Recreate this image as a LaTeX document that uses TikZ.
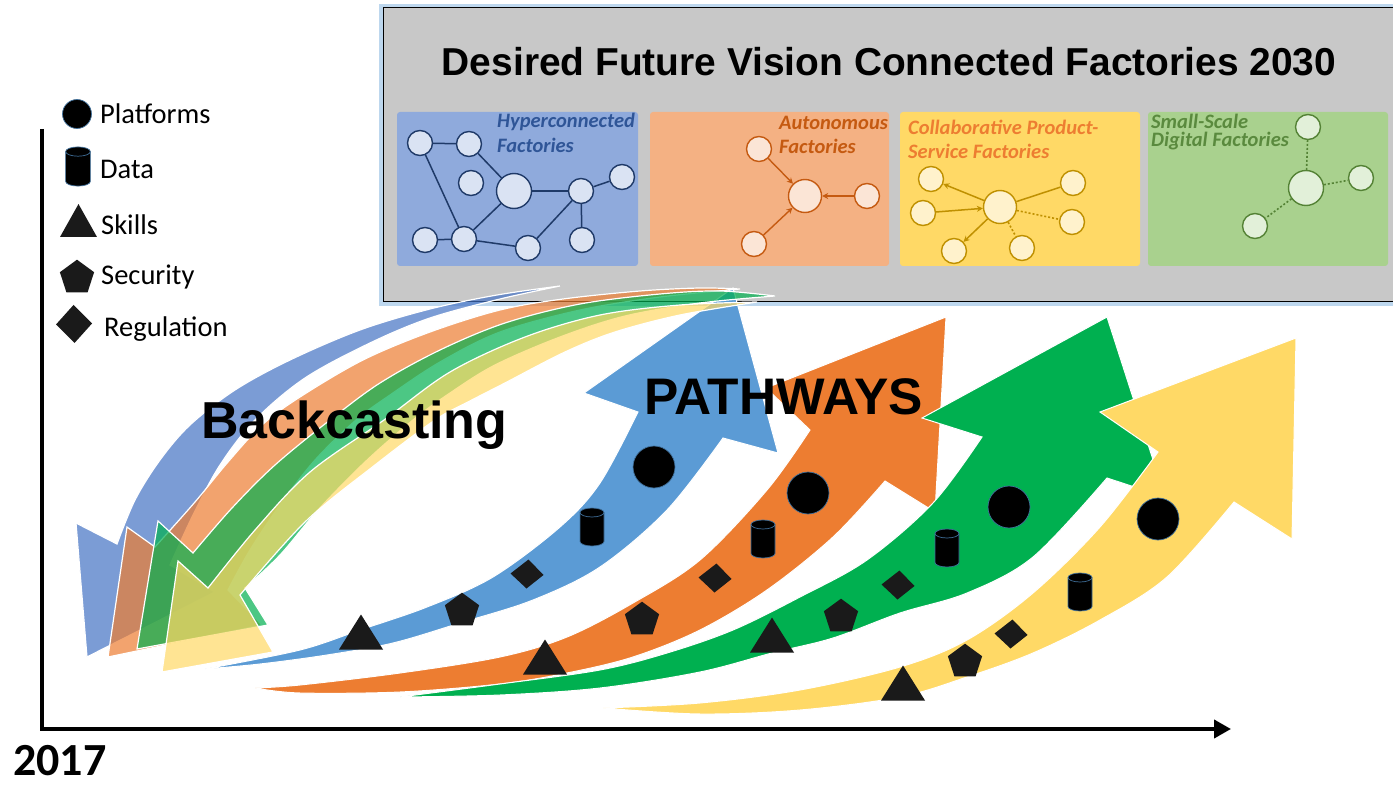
\documentclass[tikz,border=0pt]{standalone}
\usepackage{fontspec}
\setmainfont{Liberation Sans}
\newfontfamily\calib{Carlito}
\usetikzlibrary{arrows.meta}
\definecolor{boxgray}{HTML}{C8C8C8}
\definecolor{glowblue}{HTML}{BDD7EE}
\definecolor{hbg}{HTML}{8FAADC}
\definecolor{hfill}{HTML}{DAE3F3}
\definecolor{hline}{HTML}{1F3A68}
\definecolor{htext}{HTML}{2F5597}
\definecolor{abg}{HTML}{F4B183}
\definecolor{afill}{HTML}{FBE5D6}
\definecolor{aline}{HTML}{C55A11}
\definecolor{cbg}{HTML}{FFD966}
\definecolor{cfill}{HTML}{FFF2CC}
\definecolor{cline}{HTML}{BF9000}
\definecolor{ctext}{HTML}{ED7D31}
\definecolor{sbg}{HTML}{A9D18E}
\definecolor{sfill}{HTML}{E2F0D9}
\definecolor{sline}{HTML}{548235}
\definecolor{stext}{HTML}{5A8A3E}
\definecolor{pblue}{HTML}{5B9BD5}
\definecolor{porange}{HTML}{ED7D31}
\definecolor{pgreen}{HTML}{00B050}
\definecolor{pyellow}{HTML}{FFD966}
\definecolor{bblue}{HTML}{4472C4}
\definecolor{symedge}{HTML}{41719C}
\definecolor{symfill}{HTML}{1A1A1A}
\tikzset{
 hnode/.style={circle, draw=hline, fill=hfill, line width=1.4pt, minimum size=25pt, inner sep=0pt},
 hbig/.style={hnode, minimum size=35pt},
 hedge/.style={draw=hline, line width=1.5pt},
 anode/.style={circle, draw=aline, fill=afill, line width=1.4pt, minimum size=25pt, inner sep=0pt},
 abig/.style={anode, minimum size=33pt},
 aarrow/.style={draw=aline, line width=1.4pt, -{Stealth[length=6pt,width=6pt]}},
 cnode/.style={circle, draw=cline, fill=cfill, line width=1.4pt, minimum size=25pt, inner sep=0pt},
 cbig/.style={cnode, minimum size=33pt},
 cedge/.style={draw=cline, line width=1.5pt},
 carrow/.style={cedge, -{Stealth[length=6pt,width=6pt]}},
 cdot/.style={draw=cline, line width=1.6pt, dash pattern=on 2pt off 2pt},
 snode/.style={circle, draw=sline, fill=sfill, line width=1.4pt, minimum size=25pt, inner sep=0pt},
 sbig/.style={snode, minimum size=35pt},
 sdot/.style={draw=sline, line width=1.6pt, dash pattern=on 2pt off 2pt},
 panel/.style={rounded corners=3pt},
 ptitle/.style={font=\calib\bfseries\itshape\fontsize{20.5}{22}\selectfont, anchor=base west, inner sep=0pt},
 legtext/.style={font=\calib\fontsize{28.5}{30}\selectfont, anchor=base west, inner sep=0pt},
 parrow/.style={draw=white, line width=1pt},
 bcast/.style={fill opacity=0.7, draw=white, draw opacity=1, line width=1.2pt},
 symline/.style={draw=symedge, line width=0.7pt},
 platsym/.pic={\draw[symline, fill=black] (0,0) circle[radius=21];},
 datasym/.pic={
   \draw[symline, fill=black] (-12,-14.5) -- (-12,14.5) arc[start angle=180,end angle=0,x radius=12,y radius=4.5] -- (12,-14.5) arc[start angle=0,end angle=-180,x radius=12,y radius=4.5] -- cycle;
   \draw[symline] (-12,-14.5) arc[start angle=180,end angle=0,x radius=12,y radius=4.5];},
 skillsym/.pic={\fill[symfill] (-22,17.5) -- (0,-17.5) -- (22,17.5) -- cycle;},
 secsym/.pic={\fill[symfill] (0,-16.3) -- (17.1,-3.8) -- (10.6,16.3) -- (-10.6,16.3) -- (-17.1,-3.8) -- cycle;},
 regsym/.pic={\fill[symfill] (-16.5,-0.5) -- (1.5,-14.5) -- (16.5,1) -- (-0.5,14.5) -- cycle;},
}
\begin{document}
\begin{tikzpicture}[x=1pt,y=-1pt]
\useasboundingbox (0,0) rectangle (1393,786);
\fill[white] (0,0) rectangle (1393,786);

% ---------- top box ----------
\draw[glowblue, line width=4pt] (381,6) rectangle (1402,304);
\draw[fill=boxgray, draw=black, line width=1pt] (383,8) rectangle (1400,302);
\node[font=\bfseries\fontsize{38.9}{40}\selectfont, anchor=base, inner sep=0pt] (title) at (889,76) {Desired Future Vision Connected Factories 2030};

% panel 1
\fill[hbg, panel] (397,112) rectangle (638,266);
\node[ptitle, text=htext] (h1t) at (497,128) {Hyperconnected};
\node[ptitle, text=htext] (h2t) at (497,153) {Factories};
\node[hnode] (h1) at (420,143) {};
\node[hnode] (h2) at (469,144) {};
\node[hnode] (h3) at (471,183) {};
\node[hbig]  (h4) at (514,191) {};
\node[hnode] (h5) at (581,191) {};
\node[hnode] (h6) at (622,177) {};
\node[hnode] (h7) at (425,240) {};
\node[hnode] (h8) at (464,239) {};
\node[hnode] (h9) at (528,248) {};
\node[hnode] (h10) at (582,240) {};
\foreach \a/\b in {h1/h2,h1/h8,h2/h4,h4/h8,h4/h5,h5/h6,h5/h9,h5/h10,h7/h8,h8/h9}
  \draw[hedge] (\a) -- (\b);

% panel 2
\fill[abg, panel] (650,112) rectangle (889,266);
\node[ptitle, text=aline] (a1t) at (779,130) {Autonomous};
\node[ptitle, text=aline] (a2t) at (779,154) {Factories};
\node[abig]  (a0) at (805,196) {};
\node[anode] (a1) at (759,149) {};
\node[anode] (a2) at (867,196) {};
\node[anode] (a3) at (754,244) {};
\draw[aarrow] (a1) -- (a0);
\draw[aarrow] (a2) -- (a0);
\draw[aarrow] (a3) -- (a0);

% panel 3
\fill[cbg, panel] (900,112) rectangle (1140,266);
\node[ptitle, text=ctext] (c1t) at (908,135) {Collaborative Product-};
\node[ptitle, text=ctext] (c2t) at (908,159) {Service Factories};
\node[cbig]  (c0) at (1000,207) {};
\node[cnode] (c1) at (931,179) {};
\node[cnode] (c2) at (923,213) {};
\node[cnode] (c3) at (954,251) {};
\node[cnode] (c4) at (1022,248) {};
\node[cnode] (c5) at (1073,183) {};
\node[cnode] (c6) at (1072,222) {};
\draw[carrow] (c0) -- (c1);
\draw[carrow] (c2) -- (c0);
\draw[carrow] (c0) -- (c3);
\draw[cdot] (c0) -- (c4);
\draw[cedge] (c0) -- (c5);
\draw[cdot] (c0) -- (c6);

% panel 4
\fill[sbg, panel] (1148,112) rectangle (1388,266);
\node[ptitle, text=stext] (s1t) at (1151,129) {Small-Scale};
\node[ptitle, text=stext] (s2t) at (1151,147) {Digital Factories};
\node[sbig]  (s0) at (1306,188) {};
\node[snode] (s1) at (1308,127) {};
\node[snode] (s2) at (1361,178) {};
\node[snode] (s3) at (1255,226) {};
\draw[sdot] (s0) -- (s1);
\draw[sdot] (s0) -- (s2);
\draw[sdot] (s0) -- (s3);

% ---------- axes ----------
\draw[line width=4.5pt] (42,129) -- (42,731);
\draw[line width=4pt, -{Triangle[length=17pt,width=18pt]}] (40,729) -- (1231,729);
\node[font=\calib\bfseries\fontsize{46}{48}\selectfont, anchor=base west, inner sep=0pt] (year) at (13,775) {2017};

% ---------- legend ----------
\pic[scale=0.69] at (77,114) {platsym};
\pic[scale=1.03] at (78,166.5) {datasym};
\pic[xscale=0.84, yscale=0.94] at (78.5,220.5) {skillsym};
\pic at (77,276) {secsym};
\fill[symfill] (56,324.5) -- (73.5,305) -- (92,323.5) -- (74.5,343) -- cycle;
\node[legtext] (lplat) at (100,124) {Platforms};
\node[legtext] (ldata) at (100,179) {Data};
\node[legtext] (lskill) at (101,235) {Skills};
\node[legtext] (lsec) at (101,285) {Security};
\node[legtext] (lreg) at (104,337) {Regulation};

% ---------- pathway arrows ----------
\fill[pblue, parrow] plot[smooth, tension=0.55] coordinates {(205,669) (300,650) (360,630) (427,607) (493,577) (560,527) (600,483) (638,412)}
  -- (584,393) -- (733,288) -- (778,453)
  -- plot[smooth, tension=0.55] coordinates {(723,438) (667,510) (600,567) (533,600) (460,623) (393,643) (327,655) (260,664) (205,669)} -- cycle;
\fill[porange, parrow] plot[smooth, tension=0.55] coordinates {(255,688) (300,685) (400,673) (500,657) (567,637) (633,603) (700,560) (767,490) (810,430)}
  -- (766,388) -- (946,317) -- (935,512)
  -- plot[smooth, tension=0.55] coordinates {(885,481) (833,537) (767,590) (700,630) (633,657) (567,673) (500,684) (400,692) (300,693) (255,688)} -- cycle;
\fill[pgreen, parrow] plot[smooth, tension=0.55] coordinates {(400,697) (500,684) (600,670) (667,653) (733,630) (800,597) (867,560) (933,503) (982,437)}
  -- (922,418) -- (1107,317) -- (1165,497)
  -- plot[smooth, tension=0.55] coordinates {(1107,478) (1033,557) (967,593) (900,613) (833,638) (772,653) (700,672) (600,688) (500,695) (400,697)} -- cycle;
\fill[pyellow, parrow] plot[smooth, tension=0.55] coordinates {(603,708) (700,703) (800,690) (900,667) (967,640) (1033,593) (1100,527) (1158,452)}
  -- (1100,412) -- (1296,338) -- (1292,539)
  -- plot[smooth, tension=0.55] coordinates {(1234,502) (1167,577) (1100,620) (1033,653) (967,677) (900,697) (800,710) (700,714) (603,708)} -- cycle;

% symbols on pathways
\pic at (361,632) {skillsym};
\pic at (462,609) {secsym};
\pic at (527,574) {regsym};
\pic at (592,527) {datasym};
\pic at (654,467) {platsym};
\pic at (545,657) {skillsym};
\pic at (642,618) {secsym};
\pic at (715,578) {regsym};
\pic at (763,539) {datasym};
\pic at (808,493) {platsym};
\pic at (772,635) {skillsym};
\pic at (841,615) {secsym};
\pic at (898,585) {regsym};
\pic at (947,548) {datasym};
\pic at (1009,507) {platsym};
\pic at (903,683) {skillsym};
\pic at (965,660) {secsym};
\pic at (1011,634) {regsym};
\pic at (1080,592) {datasym};
\pic at (1158,519) {platsym};

% ---------- backcasting arrows ----------
\path[bcast, fill=bblue] (76,523) -- plot[smooth, tension=0.55] coordinates {(117,544) (135,500) (160,460) (190,425) (235,390) (290,360) (360,330) (430,309) (497,295) (560,286)}
  -- plot[smooth, tension=0.55] coordinates {(560,286) (500,299) (430,318) (370,343) (305,378) (255,420) (220,465) (193,515) (170,565)}
  -- (215,592) -- (87,657) -- cycle;
\path[bcast, fill=porange] (127,527) -- plot[smooth, tension=0.55] coordinates {(155,547) (195,502) (228,462) (262,425) (300,397) (363,360) (430,332) (500,310) (563,299) (640,291) (700,288) (740,289)}
  -- plot[smooth, tension=0.55] coordinates {(740,289) (660,297) (580,310) (500,332) (440,362) (390,395) (356,420) (315,460) (280,505) (250,550) (228,590)}
  -- (262,625) -- (108,657) -- cycle;
\path[bcast, fill=pgreen] (158,521) -- plot[smooth, tension=0.55] coordinates {(193,553) (232,508) (275,465) (330,420) (380,383) (440,350) (505,323) (580,304) (660,294) (720,291) (775,296)}
  -- plot[smooth, tension=0.55] coordinates {(775,296) (700,303) (625,316) (560,337) (495,365) (450,393) (413,420) (365,462) (318,510) (280,555) (245,588)}
  -- (268,625) -- (137,649) -- cycle;
\path[bcast, fill=pyellow] (178,561) -- plot[smooth, tension=0.55] coordinates {(208,588) (255,530) (310,472) (384,420) (450,372) (525,337) (600,315) (680,305) (757,302)}
  -- plot[smooth, tension=0.55] coordinates {(757,302) (680,315) (615,332) (565,352) (505,383) (468,402) (435,420) (375,465) (305,522) (240,595)}
  -- (273,652) -- (162,672) -- cycle;

% ---------- labels ----------
\node[font=\bfseries\fontsize{52}{54}\selectfont, anchor=base west, inner sep=0pt] (back) at (201,438) {Backcasting};
\node[font=\bfseries\fontsize{51.4}{53}\selectfont, anchor=base west, inner sep=0pt] (path) at (644,414) {PATHWAYS};
\end{tikzpicture}
\end{document}
